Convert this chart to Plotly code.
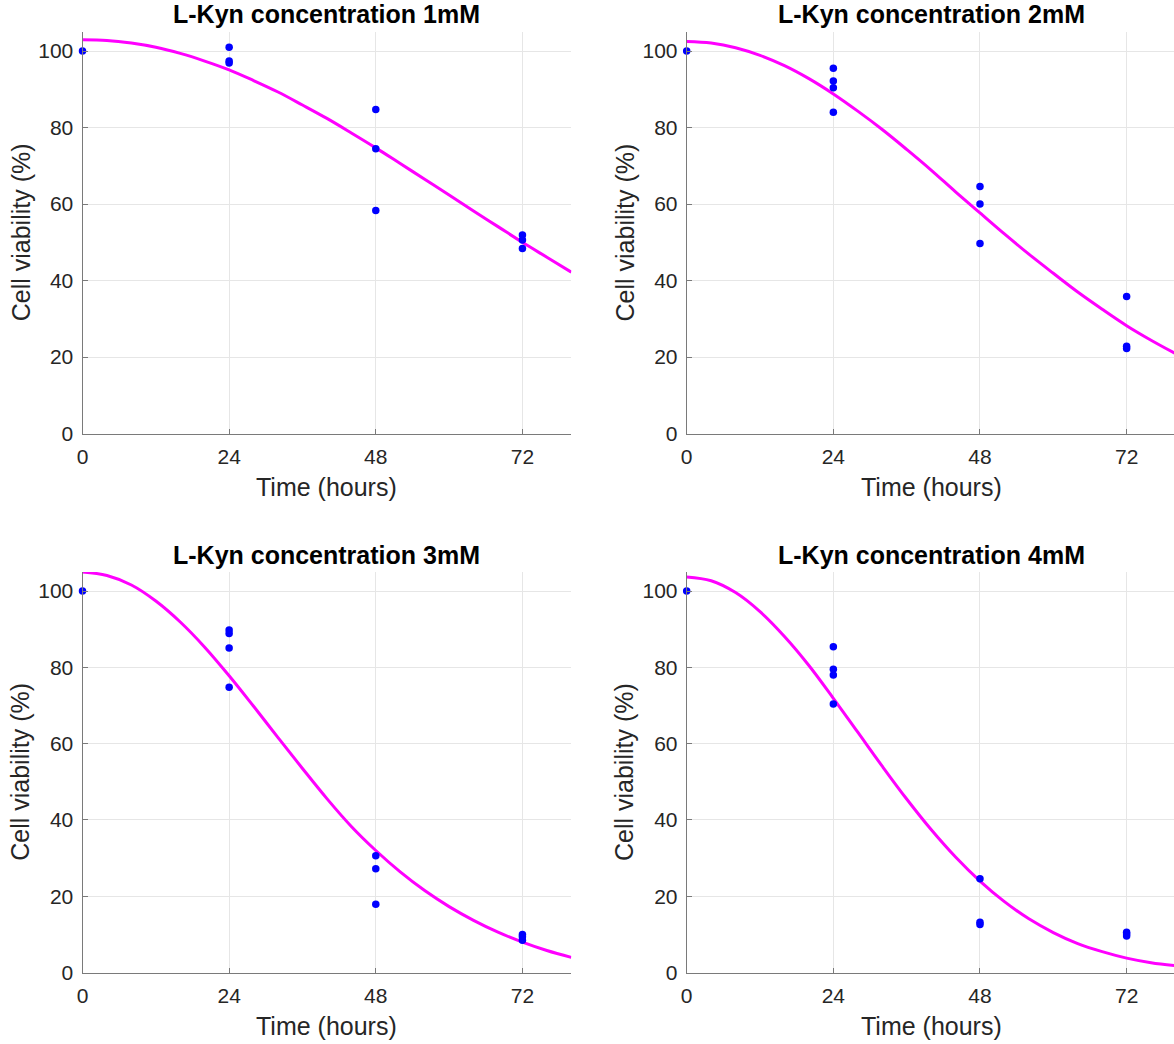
import plotly.graph_objects as go

W, H = 1174, 1044

# ---------------- data ----------------
titles = ["L-Kyn concentration 1mM", "L-Kyn concentration 2mM",
          "L-Kyn concentration 3mM", "L-Kyn concentration 4mM"]
x_ticks = [0, 24, 48, 72]
y_ticks = [0, 20, 40, 60, 80, 100]

# measured replicates
t_1mM = [0, 24, 24, 24, 48, 48, 48, 72, 72, 72]
v_1mM = [100, 101.0, 97.4, 96.9, 84.7, 74.5, 58.3, 51.9, 50.6, 48.4]

t_2mM = [0, 24, 24, 24, 24, 48, 48, 48, 72, 72, 72]
v_2mM = [100, 95.5, 92.2, 90.4, 84.0, 64.6, 60.0, 49.7, 35.8, 22.8, 22.2]

t_3mM = [0, 24, 24, 24, 24, 48, 48, 48, 72, 72, 72]
v_3mM = [100, 89.8, 88.9, 85.1, 74.8, 30.6, 27.2, 17.9, 10.0, 9.4, 8.5]

t_4mM = [0, 24, 24, 24, 24, 48, 48, 48, 72, 72, 72]
v_4mM = [100, 85.4, 79.5, 78.0, 70.4, 24.6, 13.2, 12.6, 10.6, 10.1, 9.6]

# fitted curves, sampled every 4 hours
fit_t = [0, 4, 8, 12, 16, 20, 24, 28, 32, 36, 40, 44, 48, 52, 56, 60, 64, 68, 72, 76, 80]
fit_1mM = [103.0, 102.8, 102.1, 101.0, 99.4, 97.4, 95.1, 92.3, 89.3, 85.9, 82.4,
           78.6, 74.7, 70.6, 66.5, 62.4, 58.2, 54.1, 50.0, 46.1, 42.2]
fit_2mM = [102.5, 102.1, 100.9, 98.9, 96.2, 92.8, 88.8, 84.3, 79.5, 74.3, 68.9,
           63.2, 57.7, 52.2, 46.9, 41.9, 37.0, 32.5, 28.2, 24.4, 20.9]
fit_3mM = [105.0, 104.1, 101.6, 97.4, 91.9, 85.3, 77.8, 69.8, 61.6, 53.5, 45.6,
           38.3, 32.0, 26.4, 21.5, 17.3, 13.7, 10.6, 8.0, 5.8, 4.0]
fit_4mM = [103.7, 102.7, 99.6, 94.6, 88.1, 80.5, 71.9, 63.0, 54.1, 45.5, 37.5,
           30.3, 24.0, 18.6, 14.1, 10.5, 7.6, 5.5, 3.8, 2.6, 1.8]

meas_t = [t_1mM, t_2mM, t_3mM, t_4mM]
meas_v = [v_1mM, v_2mM, v_3mM, v_4mM]
fits = [fit_1mM, fit_2mM, fit_3mM, fit_4mM]

# ---------------- layout geometry (pixels) ----------------
FONT = "Arial, 'Liberation Sans', Helvetica, sans-serif"
TXT = "#262626"
PXH = 6.11  # pixels per hour
cols = [(82.5, 82.5 + 80 * PXH), (686.7, W)]
rows = [(32.0, 433.5), (572.0, 972.6)]

def px(x):
    return x / W

def py(y):
    return 1 - y / H

fig = go.Figure()
annotations = []
layout = {}

for i in range(4):
    r, c = divmod(i, 2)
    x0, x1 = cols[c]
    ytop, ybot = rows[r]
    n = "" if i == 0 else str(i + 1)
    xa, ya = "x" + n, "y" + n

    fig.add_trace(go.Scatter(
        x=fit_t, y=fits[i], mode="lines", line=dict(color="#ff00ff", width=3, shape="spline"),
        xaxis=xa, yaxis=ya, showlegend=False, hoverinfo="skip"))
    fig.add_trace(go.Scatter(
        x=meas_t[i], y=meas_v[i], mode="markers",
        marker=dict(color="#0000ff", size=7.5, line=dict(width=0)),
        xaxis=xa, yaxis=ya, showlegend=False, cliponaxis=False))

    xmax = (x1 - x0) / PXH
    common = dict(showgrid=True, gridcolor="#e6e6e6", gridwidth=1, zeroline=False,
                  showline=True, linecolor="#7a7a7a", linewidth=1, mirror=False,
                  ticks="inside", ticklen=5, tickcolor="#7a7a7a", tickwidth=1,
                  tickfont=dict(family=FONT, size=21, color=TXT), fixedrange=True,
                  automargin=False)
    layout["xaxis" + n] = dict(common, domain=[px(x0), px(x1)], range=[0, xmax],
                               tickvals=x_ticks, anchor=ya, ticklabelstandoff=4)
    layout["yaxis" + n] = dict(common, domain=[py(ybot), py(ytop)], range=[0, 105],
                               tickvals=y_ticks, anchor=xa, ticklabelstandoff=4)

    xc = x0 + 80 * PXH / 2
    annotations.append(dict(text="<b>%s</b>" % titles[i], xref="paper", yref="paper",
                            x=px(xc), y=py(ytop - 17.5), xanchor="center", yanchor="middle",
                            showarrow=False, font=dict(family=FONT, size=25, color="#000000")))
    annotations.append(dict(text="Time (hours)", xref="paper", yref="paper",
                            x=px(xc), y=py(ybot + 53.5), xanchor="center", yanchor="middle",
                            showarrow=False, font=dict(family=FONT, size=25, color=TXT)))
    annotations.append(dict(text="Cell viability (%)", xref="paper", yref="paper",
                            x=px(x0 - 62), y=py((ytop + ybot) / 2), xanchor="center",
                            yanchor="middle", textangle=-90, showarrow=False,
                            font=dict(family=FONT, size=25, color=TXT)))

fig.update_layout(
    width=W, height=H, margin=dict(l=0, r=0, t=0, b=0, pad=0, autoexpand=False),
    paper_bgcolor="white", plot_bgcolor="white",
    annotations=annotations, **layout)

fig.write_html("out.html")
